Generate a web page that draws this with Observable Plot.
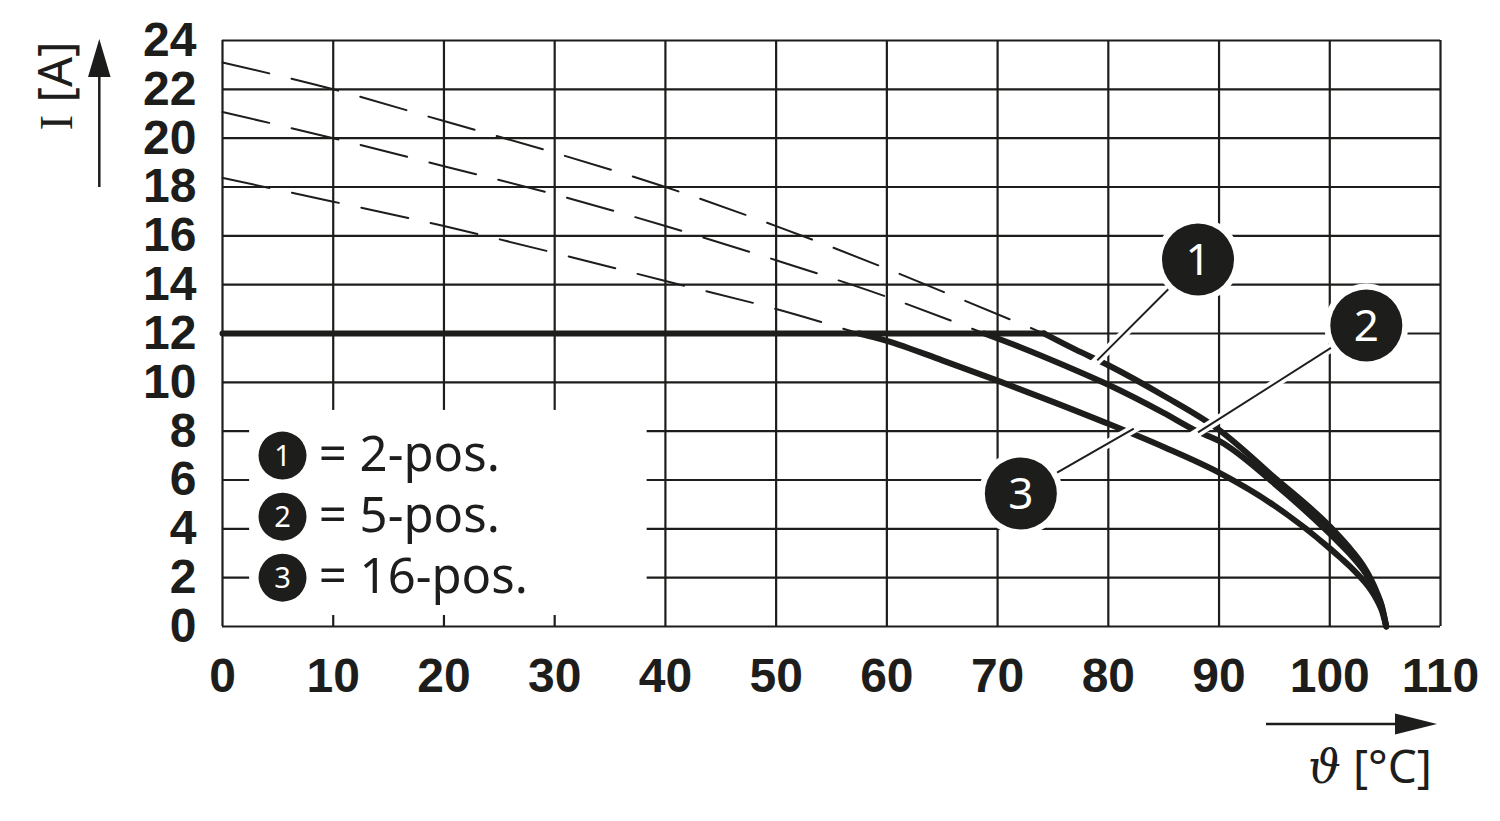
<!DOCTYPE html>
<html>
<head>
<meta charset="utf-8">
<script src="https://cdn.jsdelivr.net/npm/d3@7"></script>
<script src="https://cdn.jsdelivr.net/npm/@observablehq/plot@0.6"></script>
<style>
  html, body { margin: 0; padding: 0; background: #fff; }
  #chart svg { display: block; }
</style>
</head>
<body>
<div id="chart"></div>
<script>
// ---------- data ----------
const xTicks = [0, 10, 20, 30, 40, 50, 60, 70, 80, 90, 100, 110];
const yTicks = [0, 2, 4, 6, 8, 10, 12, 14, 16, 18, 20, 22, 24];

// current limit (horizontal, 12 A)
const limitX = [0, 74.2];
const limitY = [12, 12];

// derating curves (solid)
const curve1X = [74.2, 77, 80, 85, 90, 95, 100, 101, 102, 103, 103.7, 104.3, 104.7, 105.1];
const curve1Y = [12, 11.35, 10.7, 9.45, 8.05, 6.1, 4.1, 3.62, 3.1, 2.5, 1.95, 1.35, 0.85, 0];
const curve2X = [68.8, 72, 76, 80, 85, 88, 90, 95, 100, 101, 102, 103, 103.7, 104.3, 104.7, 105.1];
const curve2Y = [12, 11.45, 10.7, 9.9, 8.75, 8.0, 7.6, 5.85, 3.8, 3.35, 2.88, 2.33, 1.83, 1.27, 0.8, 0];
const curve3X = [57.5, 60, 65, 70, 75, 80, 85, 90, 95, 100, 101, 102, 103, 103.7, 104.3, 104.7, 105.1];
const curve3Y = [12, 11.7, 10.9, 10.07, 9.2, 8.3, 7.35, 6.3, 4.95, 3.2, 2.8, 2.38, 1.9, 1.5, 1.05, 0.65, 0];

// dashed continuations above 12 A
const dash1X = [0, 10, 20, 30, 40, 50, 60, 67, 74.2];
const dash1Y = [23.1, 22, 20.7, 19.4, 18, 16.4, 14.65, 13.35, 12];
const dash2X = [0, 10, 20, 30, 40, 50, 60, 68.8];
const dash2Y = [21.07, 20, 18.85, 17.7, 16.4, 15.0, 13.5, 12];
const dash3X = [0, 10, 20, 30, 40, 50, 57.5];
const dash3Y = [18.37, 17.4, 16.4, 15.3, 14.15, 13.0, 12];

// legend
const seriesIds = ["1", "2", "3"];
const seriesLabels = ["= 2-pos.", "= 5-pos.", "= 16-pos."];

// ---------- layout (annotation placement) ----------
const ink = "#1d1d1b";
const legendBox = {x1: 2.45, x2: 38.35, y1: 0.45, y2: 8.85};
const legendDotX = 5.42, legendTextX = 8.7;
const legendRowY = [7, 4.5, 2];
const calloutCX = [88.1, 103.3, 72.1];
const calloutCY = [15.03, 12.33, 5.45];
const calloutTX = [79.0, 88.1, 82.3];
const calloutTY = [10.9, 7.95, 8.1];

// ---------- build tables ----------
const rows = (xs, ys, s) => xs.map((x, i) => ({x, y: ys[i], s}));
const solidRows = [...rows(curve1X, curve1Y, "1"), ...rows(curve2X, curve2Y, "2"), ...rows(curve3X, curve3Y, "3")];
const dashRows = [...rows(dash1X, dash1Y, "1"), ...rows(dash2X, dash2Y, "2"), ...rows(dash3X, dash3Y, "3")];
const limitRows = rows(limitX, limitY, "limit");
const legend = seriesIds.map((id, i) => ({id, label: seriesLabels[i], y: legendRowY[i]}));
const callouts = seriesIds.map((id, i) => {
  const f = 0.09;
  return {
    id, cx: calloutCX[i], cy: calloutCY[i], tx: calloutTX[i], ty: calloutTY[i],
    ex: calloutTX[i] + (calloutTX[i] - calloutCX[i]) * f,
    ey: calloutTY[i] + (calloutTY[i] - calloutCY[i]) * f
  };
});

const chart = Plot.plot({
  width: 1500,
  height: 821,
  marginLeft: 222,
  marginRight: 60,
  marginTop: 40,
  marginBottom: 195,
  x: {domain: [0, 110], axis: null},
  y: {domain: [0, 24], axis: null},
  style: {background: "white", color: ink, fontFamily: "Liberation Sans, Arial, sans-serif"},
  marks: [
    Plot.ruleY(yTicks, {stroke: ink, strokeWidth: 2.2}),
    Plot.ruleX(xTicks, {stroke: ink, strokeWidth: 2.2}),
    Plot.rect([legendBox], {x1: "x1", x2: "x2", y1: "y1", y2: "y2", fill: "white"}),
    Plot.line(dashRows, {x: "x", y: "y", z: "s", stroke: ink, strokeWidth: 2, strokeDasharray: "48,23", curve: "monotone-x"}),
    Plot.line(limitRows, {x: "x", y: "y", stroke: ink, strokeWidth: 6}),
    Plot.line(solidRows, {x: "x", y: "y", z: "s", stroke: ink, strokeWidth: 6, curve: "monotone-x", strokeLinecap: "round", strokeLinejoin: "round"}),
    // leaders
    Plot.link(callouts, {x1: "cx", y1: "cy", x2: "ex", y2: "ey", stroke: "white", strokeWidth: 9}),
    Plot.link(callouts, {x1: "cx", y1: "cy", x2: "tx", y2: "ty", stroke: ink, strokeWidth: 2}),
    Plot.dot(callouts, {x: "cx", y: "cy", r: 42, fill: "white"}),
    Plot.dot(callouts, {x: "cx", y: "cy", r: 36, fill: ink}),
    Plot.text(callouts, {x: "cx", y: "cy", text: "id", fill: "white", fontSize: 44, fontFamily: "Noto Sans", dy: 1}),
    // legend
    Plot.dot(legend, {x: () => legendDotX, y: "y", r: 24, fill: ink}),
    Plot.text(legend, {x: () => legendDotX, y: "y", text: "id", fill: "white", fontSize: 29, fontFamily: "Noto Sans", dy: 1}),
    Plot.text(legend, {x: () => legendTextX, y: "y", text: "label", textAnchor: "start", fill: ink, fontSize: 49, fontFamily: "Noto Sans"}),
    // axes
    Plot.axisX(xTicks, {tickSize: 0, tickPadding: 31, fontSize: 48, fontWeight: "bold", fontFamily: "Liberation Sans", fill: ink, label: null}),
    Plot.axisY(yTicks, {tickSize: 0, tickPadding: 26, fontSize: 48, fontWeight: "bold", fontFamily: "Liberation Sans", fill: ink, label: null})
  ]
});

document.getElementById("chart").appendChild(chart);

// axis arrows and titles
const svg = d3.select(chart);
const g = svg.append("g");
// y arrow
g.append("line").attr("x1", 99.3).attr("x2", 99.3).attr("y1", 187).attr("y2", 70)
  .attr("stroke", ink).attr("stroke-width", 2.5);
g.append("polygon").attr("points", "99.3,39 88,77 110.6,77").attr("fill", ink);
// x arrow
g.append("line").attr("x1", 1266).attr("x2", 1400).attr("y1", 724).attr("y2", 724)
  .attr("stroke", ink).attr("stroke-width", 2.5);
g.append("polygon").attr("points", "1437,724 1395,713.5 1395,734.5").attr("fill", ink);
// y title
const yt = g.append("text").attr("transform", "translate(72,86) rotate(-90)")
  .attr("text-anchor", "middle").attr("font-size", 47).attr("fill", ink).attr("font-family", "Noto Sans");
yt.append("tspan").attr("font-family", "Liberation Serif").text("I");
yt.append("tspan").text(" [A]");
// x title
const xt = g.append("text").attr("x", 1370).attr("y", 783)
  .attr("text-anchor", "middle").attr("font-size", 46).attr("fill", ink).attr("font-family", "Noto Sans");
xt.append("tspan").attr("font-family", "DejaVu Serif").attr("font-style", "italic").text("ϑ");
xt.append("tspan").text(" [°C]");
</script>
</body>
</html>
